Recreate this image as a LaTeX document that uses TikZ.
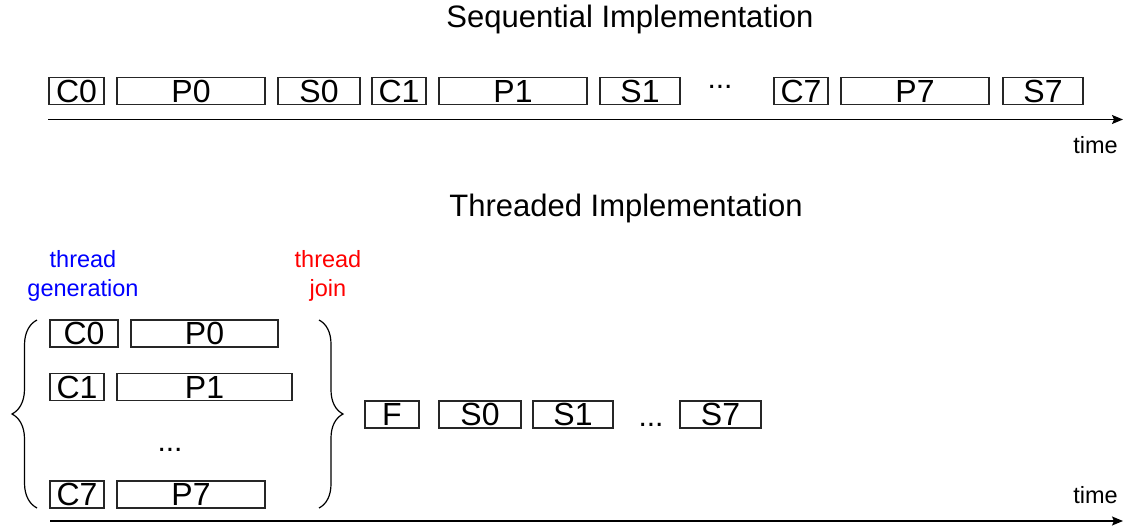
\documentclass[tikz,border=0pt]{standalone}
\usepackage{fontspec}
\setmainfont{Liberation Sans}
\usetikzlibrary{arrows.meta,decorations.pathreplacing}

\begin{document}
\begin{tikzpicture}[x=1pt,y=-1pt,
  slot/.style={draw=black!85, line width=1.2pt, inner sep=0pt,
    minimum height=27pt, font=\fontsize{32}{32}\selectfont},
  heading/.style={font=\fontsize{31}{31}\selectfont, anchor=base},
  gap/.style={font=\fontsize{30}{30}\selectfont, anchor=base, inner sep=0pt},
  note/.style={font=\fontsize{23.5}{29}\selectfont, align=center,
    anchor=north, inner sep=0pt},
  timelabel/.style={font=\fontsize{23.5}{23.5}\selectfont, anchor=base east, inner sep=0pt},
  axis/.style={line width=1.4pt, -{Stealth[length=11pt,width=9pt,inset=2pt]}},
  curly/.style={line width=1.2pt, decorate, decoration={brace, amplitude=#1}},
]
\useasboundingbox (0,0) rectangle (1123,529);

% ---------- sequential run ----------
\node[heading] (seqtitle) at (630,28) {Sequential Implementation};

\node[slot, minimum width=55pt]  (sc0) at (76.5,91)  {C0};
\node[slot, minimum width=148pt] (sp0) at (191,91)   {P0};
\node[slot, minimum width=82pt]  (ss0) at (319,91)   {S0};
\node[slot, minimum width=54pt]  (sc1) at (399,91)   {C1};
\node[slot, minimum width=148pt] (sp1) at (513,91)   {P1};
\node[slot, minimum width=80pt]  (ss1) at (640,91)   {S1};
\node[gap] (sdots) at (720,89) {...};
\node[slot, minimum width=54pt]  (sc7) at (801,91)   {C7};
\node[slot, minimum width=148pt] (sp7) at (915,91)   {P7};
\node[slot, minimum width=80pt]  (ss7) at (1043,91)  {S7};

\coordinate (seqstart) at (48,119.5);
\coordinate (seqend) at (1123,119.5);
\draw[axis] (seqstart) -- (seqend);
\node[timelabel] (seqtime) at (1118,154) {time};

% ---------- threaded run ----------
\node[heading] (thrtitle) at (626,217) {Threaded Implementation};

\node[note, text=blue] (gen) at (83,250) {thread\\generation};
\node[note, text=red] (join) at (328,250) {thread\\join};

\node[slot, minimum width=68pt]  (tc0) at (84,333.5)  {C0};
\node[slot, minimum width=147pt] (tp0) at (204.5,333.5) {P0};
\node[slot, minimum width=54pt]  (tc1) at (77,387)    {C1};
\node[slot, minimum width=175pt] (tp1) at (204.5,387) {P1};
\node[gap] (tdots) at (170,451) {...};
\node[slot, minimum width=54pt]  (tc7) at (77,494.5)  {C7};
\node[slot, minimum width=148pt] (tp7) at (191,494.5) {P7};

% braces around the parallel threads
\coordinate (lbbot) at (37,508);
\coordinate (lbtop) at (37,320);
\coordinate (rbtop) at (319,320);
\coordinate (rbbot) at (319,508);
\draw[curly=25pt] (lbbot) -- (lbtop);
\draw[curly=24pt] (rbtop) -- (rbbot);

\node[slot, minimum width=54pt] (tf)  at (392,414.5)   {F};
\node[slot, minimum width=82pt] (ts0) at (480,414.5)   {S0};
\node[slot, minimum width=80pt] (ts1) at (573,414.5)   {S1};
\node[gap] (sdots2) at (651,426) {...};
\node[slot, minimum width=81pt] (ts7) at (720.5,414.5) {S7};

\coordinate (thrstart) at (50,521);
\coordinate (thrend) at (1123,521);
\draw[axis] (thrstart) -- (thrend);
\node[timelabel] (thrtime) at (1118,503) {time};
\end{tikzpicture}
\end{document}
